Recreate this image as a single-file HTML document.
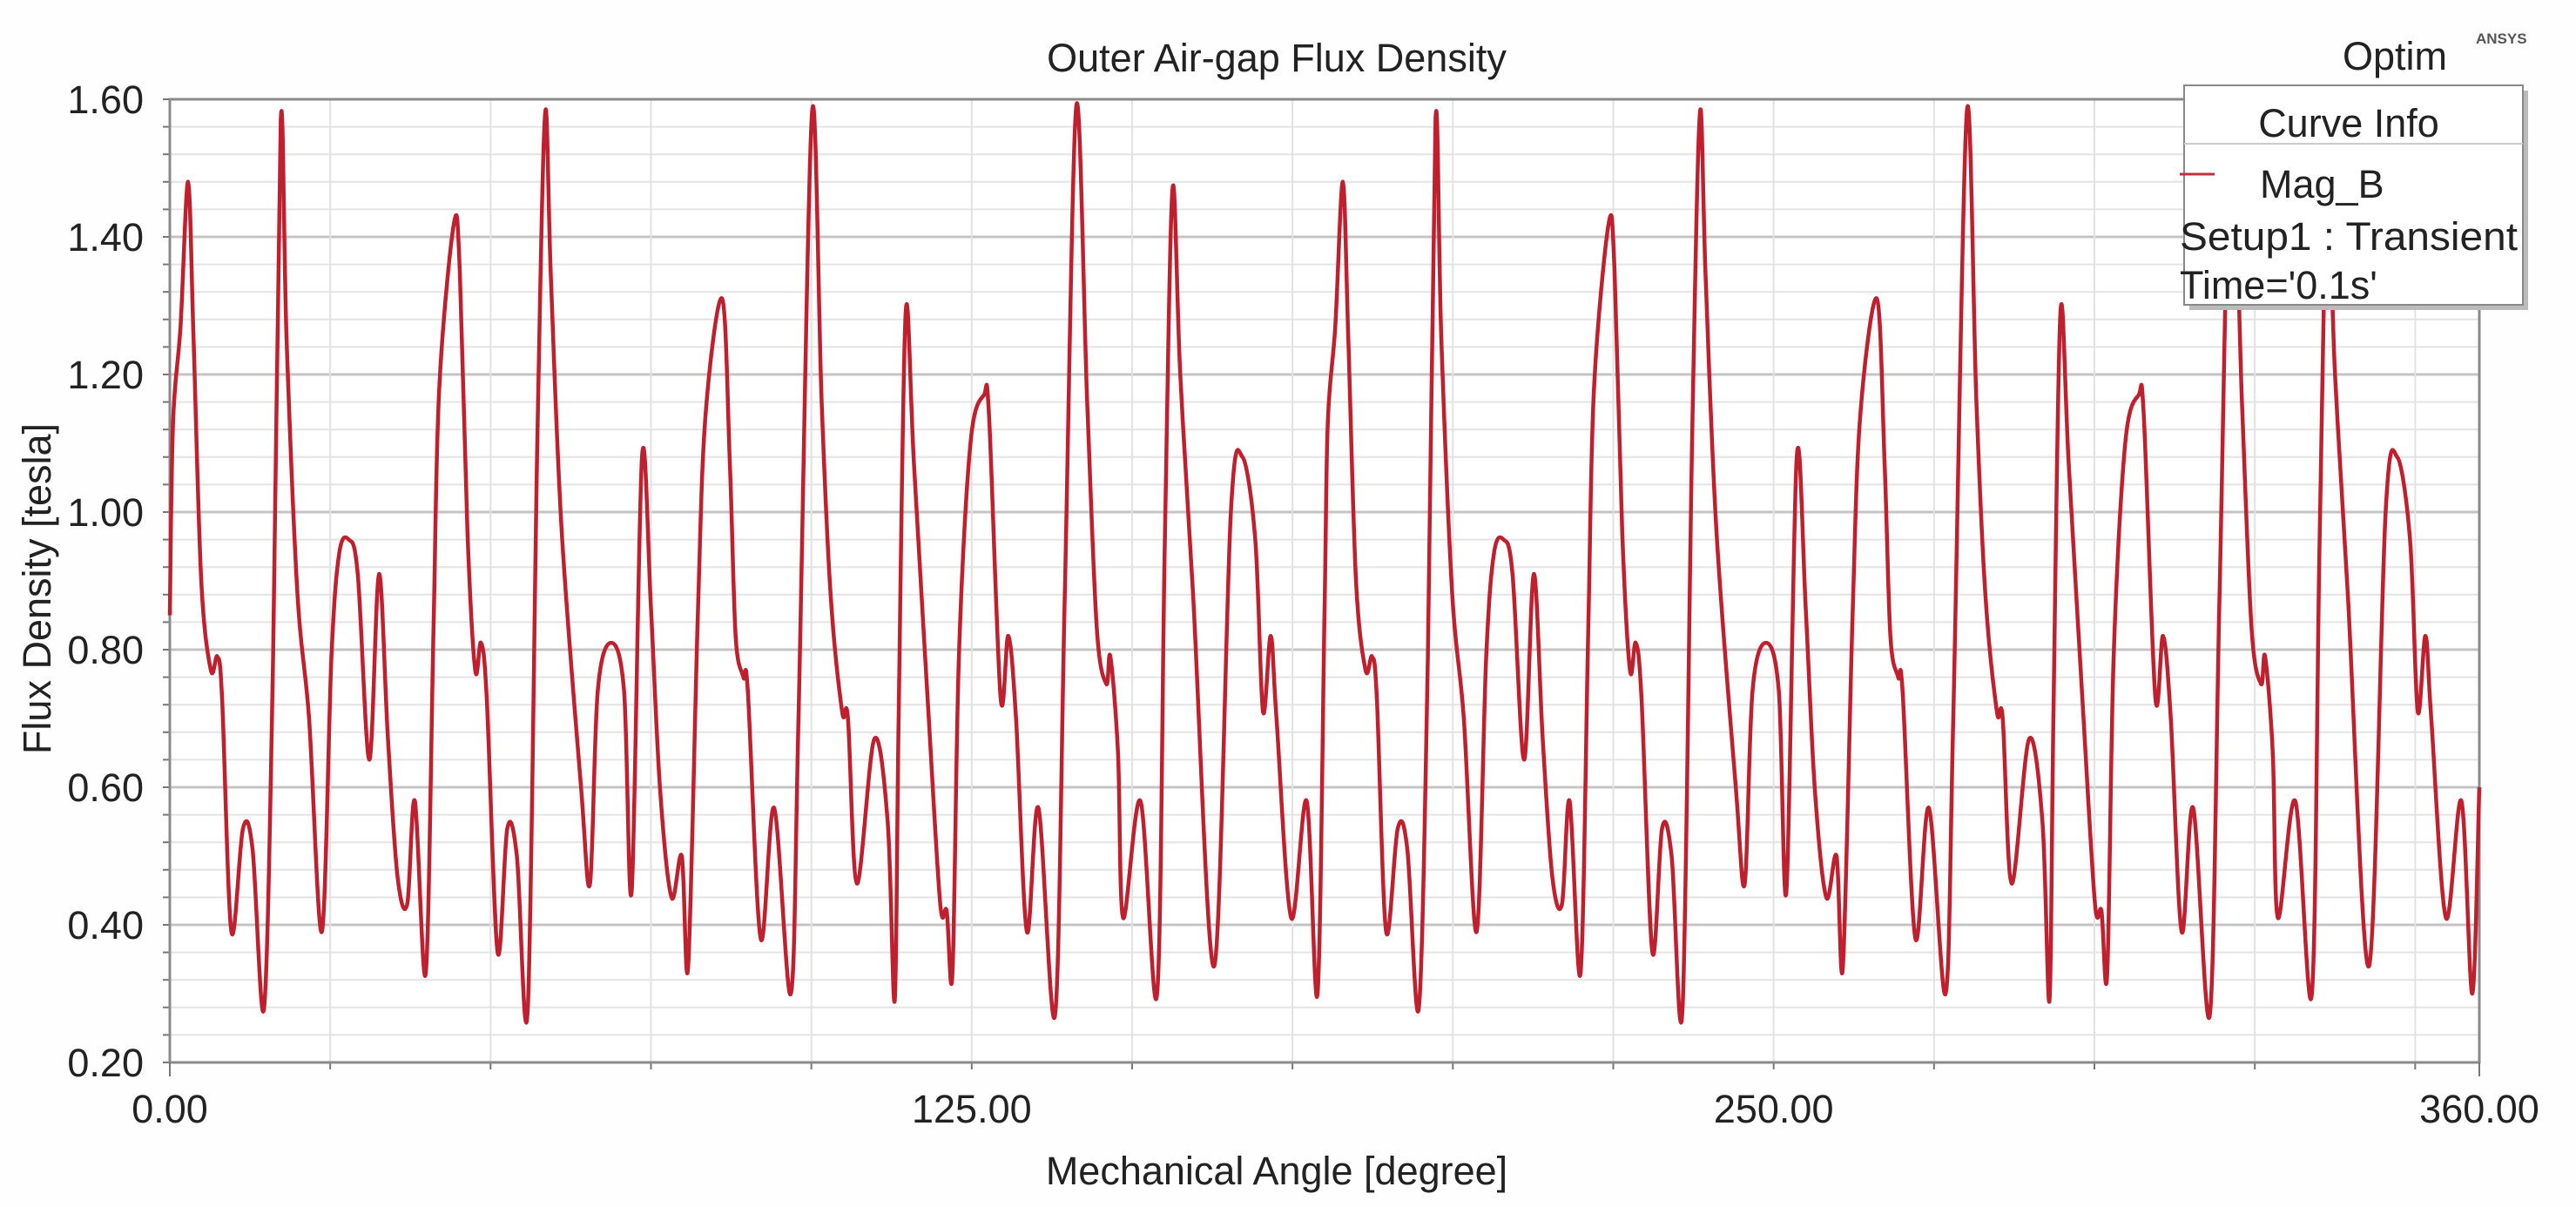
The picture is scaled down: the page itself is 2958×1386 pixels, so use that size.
<!DOCTYPE html>
<html><head><meta charset="utf-8"><style>
html,body{margin:0;padding:0;background:#fff;}
svg{display:block;font-family:"Liberation Sans",Arial,sans-serif;}
</style></head><body>
<svg id="chart" width="2958" height="1386" viewBox="0 0 2958 1386">
<rect x="0" y="0" width="2958" height="1386" fill="#fefefe"/>
<g id="grid"></g>
<g id="axes"></g>
<g id="series"></g>
<text x="1466" y="82" font-size="45" text-anchor="middle" fill="#222">Outer Air-gap Flux Density</text>
<text x="2690" y="80" font-size="45" fill="#222">Optim</text>
<text x="2843" y="50" font-size="17" font-weight="bold" fill="#555">ANSYS</text>
<text x="1466" y="1360" font-size="45" text-anchor="middle" fill="#222">Mechanical Angle [degree]</text>
<text x="0" y="0" font-size="45" text-anchor="middle" fill="#222" transform="translate(58,676) rotate(-90)">Flux Density [tesla]</text>
<g>
<rect x="2514" y="104" width="389" height="252" fill="#bbb"/>
<rect x="2508" y="98" width="389" height="252" fill="#fff" stroke="#888" stroke-width="2"/>
<line x1="2508" y1="165" x2="2897" y2="165" stroke="#ccc" stroke-width="2"/>
<text x="2697" y="157" font-size="45" text-anchor="middle" fill="#222">Curve Info</text>
<line x1="2503" y1="200" x2="2543" y2="200" stroke="#c0303a" stroke-width="3"/>
<text x="2595" y="227" font-size="45" fill="#222">Mag_B</text>
<text x="2503" y="287" font-size="45" fill="#222" textLength="388" lengthAdjust="spacingAndGlyphs">Setup1 : Transient</text>
<text x="2503" y="343" font-size="45" fill="#222">Time='0.1s'</text>
</g>
</svg>
<script>
const angles = [0,0.5,1.67,2.85,3.7,4.9,6.4,7.4,8.15,9.6,11.4,12.9,14.7,16.1,17.3,18.2,19.9,21.7,23.7,25.2,26.4,27.9,29.3,31.1,32.6,34.0,35.5,37.0,38.2,39.9,41.1,42.0,44.3,45.2,46.4,47.6,48.5,49.4,51.1,52.6,54.1,55.8,57.3,58.5,59.4,61.1,64.1,65.5,66.7,68.8,70.8,72.0,73.6,75.0,76.4,78.2,79.8,80.8,82.3,83.5,86.1,87.3,88.2,89.4,90.1,92.1,94.2,96.8,98.0,100.1,101.6,103.0,104.8,105.7,107.1,109.8,111.9,113.0,113.6,114.7,116.0,118.3,120.1,121.1,122.0,123.0,124.8,126.9,127.7,129.5,130.7,131.9,133.6,135.4,138.0,139.5,141.3,143.0,144.5,146.0,146.6,147.8,148.6,151.3,153.9,155.1,156.3,157.5,159.5,162.8,165.4,167.2,169.2,170.4,171.6,172.5,174.8,177.2,178.9,
180,180.5,181.67,182.85,183.7,184.9,186.4,187.4,188.15,189.6,191.4,192.9,194.7,196.1,197.3,198.2,199.9,201.7,203.7,205.2,206.4,207.9,209.3,211.1,212.6,214.0,215.5,217.0,218.2,219.9,221.1,222.0,224.3,225.2,226.4,227.6,228.5,229.4,231.1,232.6,234.1,235.8,237.3,238.5,239.4,241.1,244.1,245.5,246.7,248.8,250.8,252.0,253.6,255.0,256.4,258.2,259.8,260.8,262.3,263.5,266.1,267.3,268.2,269.4,270.1,272.1,274.2,276.8,278.0,280.1,281.6,283.0,284.8,285.7,287.1,289.8,291.9,293.0,293.6,294.7,296.0,298.3,300.1,301.1,302.0,303.0,304.8,306.9,307.7,309.5,310.7,311.9,313.6,315.4,318.0,319.5,321.3,323.0,324.5,326.0,326.6,327.8,328.6,331.3,333.9,335.1,336.3,337.5,339.5,342.8,345.4,347.2,349.2,350.4,351.6,352.5,354.8,357.2,358.9,360];
const values = [0.85,1.13,1.27,1.48,1.25,0.90,0.77,0.79,0.73,0.39,0.54,0.51,0.28,0.79,1.57,1.25,0.88,0.70,0.39,0.79,0.94,0.96,0.91,0.64,0.91,0.67,0.47,0.43,0.58,0.33,0.83,1.18,1.42,1.35,0.97,0.77,0.81,0.73,0.36,0.54,0.50,0.28,1.11,1.58,1.34,0.97,0.60,0.46,0.74,0.81,0.74,0.45,1.08,0.86,0.60,0.44,0.50,0.34,0.85,1.14,1.31,1.07,0.82,0.76,0.74,0.38,0.57,0.30,0.70,1.58,1.16,0.88,0.71,0.70,0.46,0.67,0.55,0.29,0.70,1.29,1.07,0.70,0.43,0.42,0.33,0.79,1.10,1.17,1.14,0.73,0.82,0.70,0.39,0.57,0.27,0.88,1.59,1.16,0.83,0.75,0.79,0.65,0.41,0.58,0.30,0.96,1.47,1.20,0.88,0.34,1.00,1.08,0.96,0.71,0.82,0.70,0.41,0.58,0.30,
0.86,1.13,1.27,1.48,1.25,0.90,0.77,0.79,0.73,0.39,0.54,0.51,0.28,0.79,1.57,1.25,0.88,0.70,0.39,0.79,0.94,0.96,0.91,0.64,0.91,0.67,0.47,0.43,0.58,0.33,0.83,1.18,1.42,1.35,0.97,0.77,0.81,0.73,0.36,0.54,0.50,0.28,1.11,1.58,1.34,0.97,0.60,0.46,0.74,0.81,0.74,0.45,1.08,0.86,0.60,0.44,0.50,0.34,0.85,1.14,1.31,1.07,0.82,0.76,0.74,0.38,0.57,0.30,0.70,1.58,1.16,0.88,0.71,0.70,0.46,0.67,0.55,0.29,0.70,1.29,1.07,0.70,0.43,0.42,0.33,0.79,1.10,1.17,1.14,0.73,0.82,0.70,0.39,0.57,0.27,0.88,1.59,1.16,0.83,0.75,0.79,0.65,0.41,0.58,0.30,0.96,1.47,1.20,0.88,0.34,1.00,1.08,0.96,0.71,0.82,0.70,0.41,0.58,0.30,0.60];
const xTickLabels = ["0.00","125.00","250.00","360.00"];
const xTickValues = [0,125,250,360];
const yTickLabels = ["0.20","0.40","0.60","0.80","1.00","1.20","1.40","1.60"];
const yTickValues = [0.2,0.4,0.6,0.8,1.0,1.2,1.4,1.6];

const NS="http://www.w3.org/2000/svg";
const L=195,R=2847,T=114,B=1220;
const xMin=0,xMax=360,yMin=0.2,yMax=1.6;
function sx(a){return L+(a-xMin)/(xMax-xMin)*(R-L);}
function sy(v){return B-(v-yMin)/(yMax-yMin)*(B-T);}
function mk(tag,attrs,parent){const e=document.createElementNS(NS,tag);for(const k in attrs)e.setAttribute(k,attrs[k]);parent.appendChild(e);return e;}
const grid=document.getElementById('grid'),axes=document.getElementById('axes'),series=document.getElementById('series');
mk('rect',{x:L,y:T,width:R-L,height:B-T,fill:'#fff'},grid);
// minor horizontal grid
for(let i=0;i<=35;i++){const v=yMin+i*0.04;const y=sy(v);
 const ln=mk('line',{x1:L,x2:R,y1:y,y2:y,stroke:(i%5===0)?'#c4c4c4':'#e4e4e4','stroke-width':(i%5===0)?3:2},grid);
 
 
 const tk=mk('line',{x1:L-8,x2:L,y1:y,y2:y,stroke:'#777','stroke-width':2},axes);
 
 
}
for(let a=25;a<360;a+=25){const x=sx(a);
 const ln=mk('line',{x1:x,x2:x,y1:T,y2:B,stroke:'#e2e2e2','stroke-width':2},grid);
 
 
 const tk=mk('line',{x1:x,x2:x,y1:B,y2:B+8,stroke:'#777','stroke-width':2},axes);
 
 
}
const fr=mk('rect',{x:L,y:T,width:R-L,height:B-T,fill:'none',stroke:'#8a8a8a','stroke-width':3},axes);


mk('line',{x1:L,x2:L,y1:B,y2:B+16,stroke:'#777','stroke-width':2},axes);
mk('line',{x1:R,x2:R,y1:B,y2:B+16,stroke:'#777','stroke-width':2},axes);
yTickValues.forEach((v,i)=>{
 const t=mk('text',{x:165,y:sy(v)+16,'font-size':45,'text-anchor':'end',fill:'#222'},axes);
 t.textContent=yTickLabels[i];
 
 
});
xTickValues.forEach((a,i)=>{
 const t=mk('text',{x:sx(a),y:1289,'font-size':45,'text-anchor':'middle',fill:'#222'},axes);
 t.textContent=xTickLabels[i];
 
 
});
const pts=angles.map((a,i)=>[sx(a),sy(values[i])]);
let d='M'+pts[0][0].toFixed(1)+' '+pts[0][1].toFixed(1);
for(let i=0;i<pts.length-1;i++){
 const p0=pts[Math.max(0,i-1)],p1=pts[i],p2=pts[i+1],p3=pts[Math.min(pts.length-1,i+2)];
 const k=1/6;
 const c1=[p1[0]+(p2[0]-p0[0])*k,p1[1]+(p2[1]-p0[1])*k];
 const c2=[p2[0]-(p3[0]-p1[0])*k,p2[1]-(p3[1]-p1[1])*k];
 d+=' C'+c1[0].toFixed(1)+' '+c1[1].toFixed(1)+' '+c2[0].toFixed(1)+' '+c2[1].toFixed(1)+' '+p2[0].toFixed(1)+' '+p2[1].toFixed(1);
}
const path=mk('path',{d:d,fill:'none',stroke:'#c01f2e','stroke-width':4.5,'stroke-linejoin':'round'},series);


</script>
</body></html>
